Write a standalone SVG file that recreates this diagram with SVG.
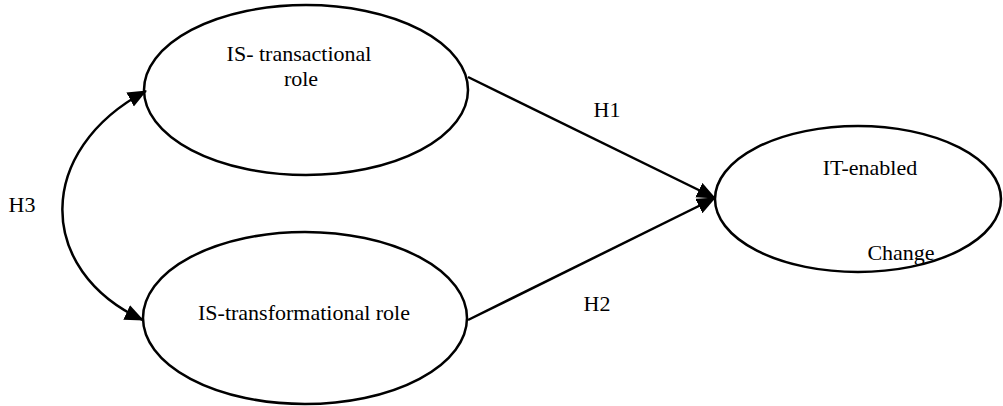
<svg xmlns="http://www.w3.org/2000/svg" width="1003" height="406" viewBox="0 0 1003 406">
<style>
.node ellipse{fill:#fff;stroke:#000;stroke-width:2.5}
text{font-family:'Liberation Serif','Times New Roman',Tinos,'DejaVu Serif',serif;font-size:22px;fill:#000;text-anchor:middle}
.conn path{fill:none;stroke:#000;stroke-width:2.5}
</style>
<defs>
<marker id="arr" markerUnits="userSpaceOnUse" markerWidth="22" markerHeight="18" refX="18" refY="8" orient="auto-start-reverse">
<path d="M0,0 L19,8 L0,16 z" fill="#000"/>
</marker>
</defs>
<g id="n-transactional" class="node">
<ellipse cx="306" cy="90" rx="162" ry="85"/>
<text x="299" y="61">IS- transactional</text>
<text x="301" y="86">role</text>
</g>
<g id="n-transformational" class="node">
<ellipse cx="305" cy="318" rx="162" ry="86"/>
<text x="304" y="320">IS-transformational role</text>
</g>
<g id="n-itchange" class="node">
<ellipse cx="858" cy="199" rx="143" ry="73"/>
<text x="870" y="175">IT-enabled</text>
<text x="901" y="260">Change</text>
</g>
<g id="connectors" class="conn">
<path d="M468,77 L715,198" marker-end="url(#arr)"/>
<path d="M468,320 L715,198" marker-end="url(#arr)"/>
<path d="M146,91 C35,150 35,270 143,320" marker-start="url(#arr)" marker-end="url(#arr)"/>
</g>
<g id="labels">
<text x="607" y="117">H1</text>
<text x="597" y="311">H2</text>
<text x="22" y="212">H3</text>
</g>
</svg>
